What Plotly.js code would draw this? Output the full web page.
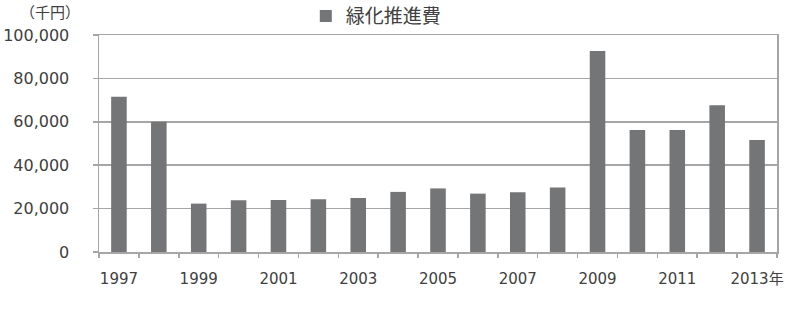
<!DOCTYPE html>
<html>
<head>
<meta charset="utf-8">
<script src="https://cdn.plot.ly/plotly-3.0.1.min.js"></script>
<style>html,body{margin:0;padding:0;background:#fff;}#chart{width:785px;height:312px;}</style>
</head>
<body>
<div id="chart"></div>
<script>
const years = [1997,1998,1999,2000,2001,2002,2003,2004,2005,2006,2007,2008,2009,2010,2011,2012,2013];
const values = [71600,60000,22300,23800,24000,24300,24900,27700,29300,26900,27500,29700,92600,56200,56200,67600,51600];
const labelYears = [1997,1999,2001,2003,2005,2007,2009,2011,2013];
const labelText = ['1997','1999','2001','2003','2005','2007','2009','2011','2013年'];
const seriesName = '緑化推進費';
const unitLabel = '（千円）';

const boundaries = years.map(y => y - 0.5).concat([years[years.length-1] + 0.5]);
const xr = [years[0] - 0.5, years[years.length-1] + 0.5];
const font = 'DejaVu Sans, Noto Sans CJK JP, sans-serif';
const txt = '#404040';

const data = [
  {type:'bar', x: years, y: values, name: seriesName, width: 0.39,
   marker:{color:'#747577'}, hoverinfo:'none'},
  {type:'scatter', x: xr, y:[0,0], xaxis:'x2', mode:'lines', line:{width:0},
   showlegend:false, hoverinfo:'none'}
];

const layout = {
  width:785, height:312,
  margin:{l:99, r:8, t:35, b:60, autoexpand:false},
  paper_bgcolor:'#fff', plot_bgcolor:'#fff',
  font:{family:font, color:txt, size:15},
  showlegend:true,
  legend:{orientation:'h', x:0.305, xanchor:'left', y:1.175, yanchor:'top',
          font:{size:19, family:'Noto Sans CJK JP, sans-serif', color:txt},
          bgcolor:'rgba(0,0,0,0)', itemwidth:30},
  xaxis:{range: xr, tickmode:'array', tickvals: labelYears, ticktext: labelText,
         ticks:'', ticklabelstandoff:12, showgrid:false, zeroline:false,
         showline:true, linecolor:'#a6a6a6', linewidth:1.5, mirror:true,
         tickfont:{size:15, family:font, color:txt}},
  xaxis2:{range: xr, overlaying:'x', anchor:'y', side:'bottom', tickmode:'array',
          tickvals: boundaries, ticks:'outside', ticklen:5, tickcolor:'#a6a6a6',
          tickwidth:1.5, showticklabels:false, showgrid:false, zeroline:false,
          showline:false},
  yaxis:{range:[0,100000], tickmode:'array', tickvals:[0,20000,40000,60000,80000,100000],
         ticktext:['0','20,000','40,000','60,000','80,000','100,000'],
         ticks:'outside', ticklen:5, tickcolor:'#a6a6a6', tickwidth:1.5,
         ticklabelstandoff:20,
         showgrid:true, gridcolor:'#a6a6a6', gridwidth:1.5, zeroline:false,
         showline:true, linecolor:'#a6a6a6', linewidth:1.5, mirror:true,
         tickfont:{size:16, family:font, color:txt}},
  annotations:[{text: unitLabel, xref:'paper', yref:'paper', x:-0.12, y:1.165,
                xanchor:'left', yanchor:'top', showarrow:false,
                font:{size:15, family:'Noto Sans CJK JP, sans-serif', color:txt}}]
};

Plotly.newPlot('chart', data, layout, {staticPlot:true, displayModeBar:false});
</script>
</body>
</html>
